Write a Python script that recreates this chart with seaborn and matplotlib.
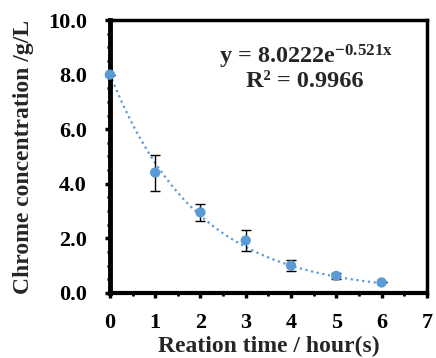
import numpy as np
import pandas as pd
import matplotlib
matplotlib.use("Agg")
import matplotlib.pyplot as plt
import seaborn as sns
from matplotlib.ticker import MultipleLocator

time_h = [0, 1, 2, 3, 4, 5, 6]
chrome = [8.0, 4.41, 2.95, 1.92, 1.0, 0.62, 0.38]
err = [0.0, 0.66, 0.32, 0.40, 0.19, 0.12, 0.0]
fit_a = 8.0222
fit_b = -0.521

sns.set_theme(style="ticks")
plt.rcParams['font.family'] = ['Liberation Serif', 'DejaVu Serif']
plt.rcParams['font.weight'] = 'bold'
plt.rcParams['mathtext.fontset'] = 'custom'
plt.rcParams['mathtext.rm'] = 'Liberation Serif:bold'
plt.rcParams['mathtext.bf'] = 'Liberation Serif:bold'
plt.rcParams['mathtext.it'] = 'Liberation Serif:bold'

blue = '#5B9BD5'
fig = plt.figure(figsize=(4.36, 3.58), dpi=100)
ax = fig.add_axes([0.252, 0.182, 0.727, 0.762])

df = pd.DataFrame({'t': time_h, 'c': chrome})
xs = np.linspace(0, 6, 200)
fit = pd.DataFrame({'t': xs, 'c': fit_a * np.exp(fit_b * xs)})
sns.lineplot(data=fit, x='t', y='c', ax=ax, color=blue, linestyle=(0, (1, 1.6)), linewidth=1.6)
ax.errorbar(time_h, chrome, yerr=err, fmt='none', ecolor='black', elinewidth=1.0, capsize=3.5, capthick=1.0, zorder=3)
sns.scatterplot(data=df, x='t', y='c', ax=ax, color=blue, s=55, edgecolor='none', zorder=4, clip_on=False)

ax.set_xlim(0, 7)
ax.set_ylim(0, 10)
ax.xaxis.set_major_locator(MultipleLocator(1))
ax.xaxis.set_minor_locator(MultipleLocator(0.5))
ax.yaxis.set_major_locator(MultipleLocator(2))
ax.yaxis.set_minor_locator(MultipleLocator(0.5))
ax.yaxis.set_major_formatter(matplotlib.ticker.FormatStrFormatter('%.1f'))
ax.tick_params(axis='both', which='major', direction='out', length=3.5, width=2.5, labelsize=16, colors='black')
ax.tick_params(axis='y', which='major', pad=13)
ax.tick_params(axis='x', which='major', pad=11)
ax.tick_params(axis='both', which='minor', direction='out', length=2.5, width=2.0, colors='black')
for lab in ax.get_xticklabels() + ax.get_yticklabels():
    lab.set_fontweight('bold')
for s, w in zip(['left', 'bottom', 'top', 'right'], [3.5, 3.0, 2.5, 2.5]):
    ax.spines[s].set_visible(True)
    ax.spines[s].set_linewidth(w)
    ax.spines[s].set_color('black')

ax.set_xlabel('Reation time / hour(s)', fontsize=17, fontweight='bold', labelpad=2)
ax.set_ylabel('Chrome concentration /g/L', fontsize=17, fontweight='bold', labelpad=10)

ax.text(0.618, 0.864, r'y = 8.0222e$^{\mathbf{-0.521x}}$', transform=ax.transAxes, ha='center', va='center', fontsize=17.5, fontweight='bold')
ax.text(0.614, 0.773, 'R² = 0.9966', transform=ax.transAxes, ha='center', va='center', fontsize=17.5, fontweight='bold')

fig.savefig('out.png', dpi=100)
